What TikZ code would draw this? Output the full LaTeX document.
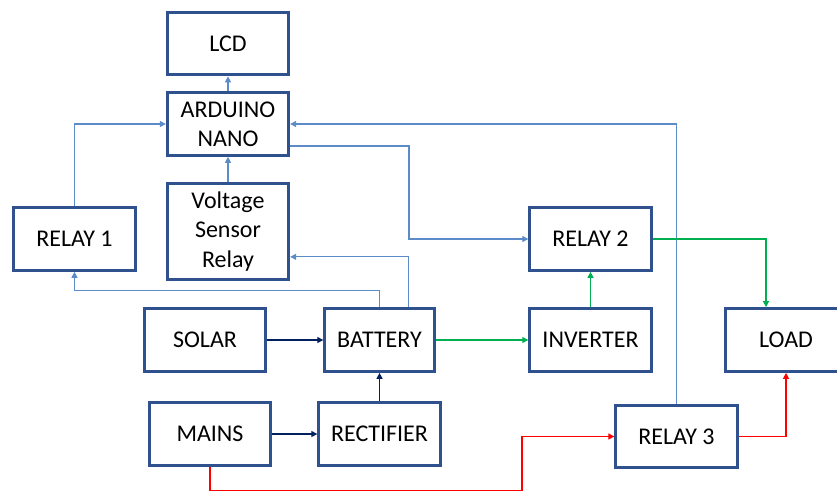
\documentclass[tikz,border=0pt]{standalone}
\usepackage{fontspec}
\setmainfont{Carlito}
\usepackage{xcolor}
\usepackage{tikz}
\usetikzlibrary{arrows.meta}
\definecolor{boxline}{RGB}{47,82,143}
\definecolor{sigblue}{RGB}{91,139,201}
\definecolor{dcnavy}{RGB}{0,32,96}
\definecolor{acgreen}{RGB}{0,176,80}
\definecolor{mainsred}{RGB}{255,0,0}

\begin{document}
\begin{tikzpicture}[x=0.75pt,y=-0.75pt,
  font=\fontsize{18}{22}\selectfont,
  blk/.style={draw=boxline,line width=2.25pt,fill=white,inner sep=0pt,
    minimum width=91pt,minimum height=47pt,align=center},
  tip/.style={-{Triangle[length=4.5pt,width=4.5pt]}},
  sig/.style={tip,draw=sigblue,line width=0.9pt},
  dc/.style={tip,draw=dcnavy,line width=0.9pt},
  ac/.style={tip,draw=acgreen,line width=0.9pt},
  mainsline/.style={tip,draw=mainsred,line width=0.9pt}]
  \useasboundingbox (0,0) rectangle (837,493);
  % blocks, centres in pixels of the drawing
  \node[blk] (lcd) at (228,43.5) {LCD};
  \node[blk] (arduino) at (228,124) {ARDUINO\\NANO};
  \node[blk,minimum height=72pt] (vsr) at (228,231.5) {Voltage\\Sensor\\Relay};
  \node[blk] (relayone) at (74.5,239) {RELAY 1};
  \node[blk] (relaytwo) at (590.5,239) {RELAY 2};
  \node[blk] (solar) at (205,340) {SOLAR};
  \node[blk,minimum width=82pt] (battery) at (379.5,340) {BATTERY};
  \node[blk] (inverter) at (590.5,340) {INVERTER};
  \node[blk] (load) at (786,340) {LOAD};
  \node[blk] (mains) at (210,434) {MAINS};
  \node[blk] (rectifier) at (379.5,434) {RECTIFIER};
  \node[blk] (relaythree) at (676.5,436.5) {RELAY 3};
  % control signals
  \draw[sig] (arduino) -- (lcd);
  \draw[sig] (vsr) -- (arduino);
  \draw[sig] (relayone.north) |- (arduino.west);
  \draw[sig] (relaythree.north) |- (arduino.east);
  \draw[sig] ([yshift=-16.5pt]arduino.east) -| (409,200) |- (relaytwo.west);
  \draw[sig] ([xshift=21.5pt]battery.north) |- ([yshift=-19pt]vsr.east);
  \draw[sig] (battery.north) -- ++(0,-17) -| (relayone.south);
  % dc charging
  \draw[dc] (solar) -- (battery);
  \draw[dc] (mains) -- (rectifier);
  \draw[dc] (rectifier) -- (battery);
  % inverter output
  \draw[ac] (battery) -- (inverter);
  \draw[ac] (inverter) -- (relaytwo);
  \draw[ac] (relaytwo.east) -| ([xshift=-15pt]load.north);
  % mains path
  \draw[mainsline] (mains.south) -- ++(0,24) -| (522,460) |- (relaythree.west);
  \draw[mainsline] (relaythree.east) -| (load.south);
\end{tikzpicture}
\end{document}
